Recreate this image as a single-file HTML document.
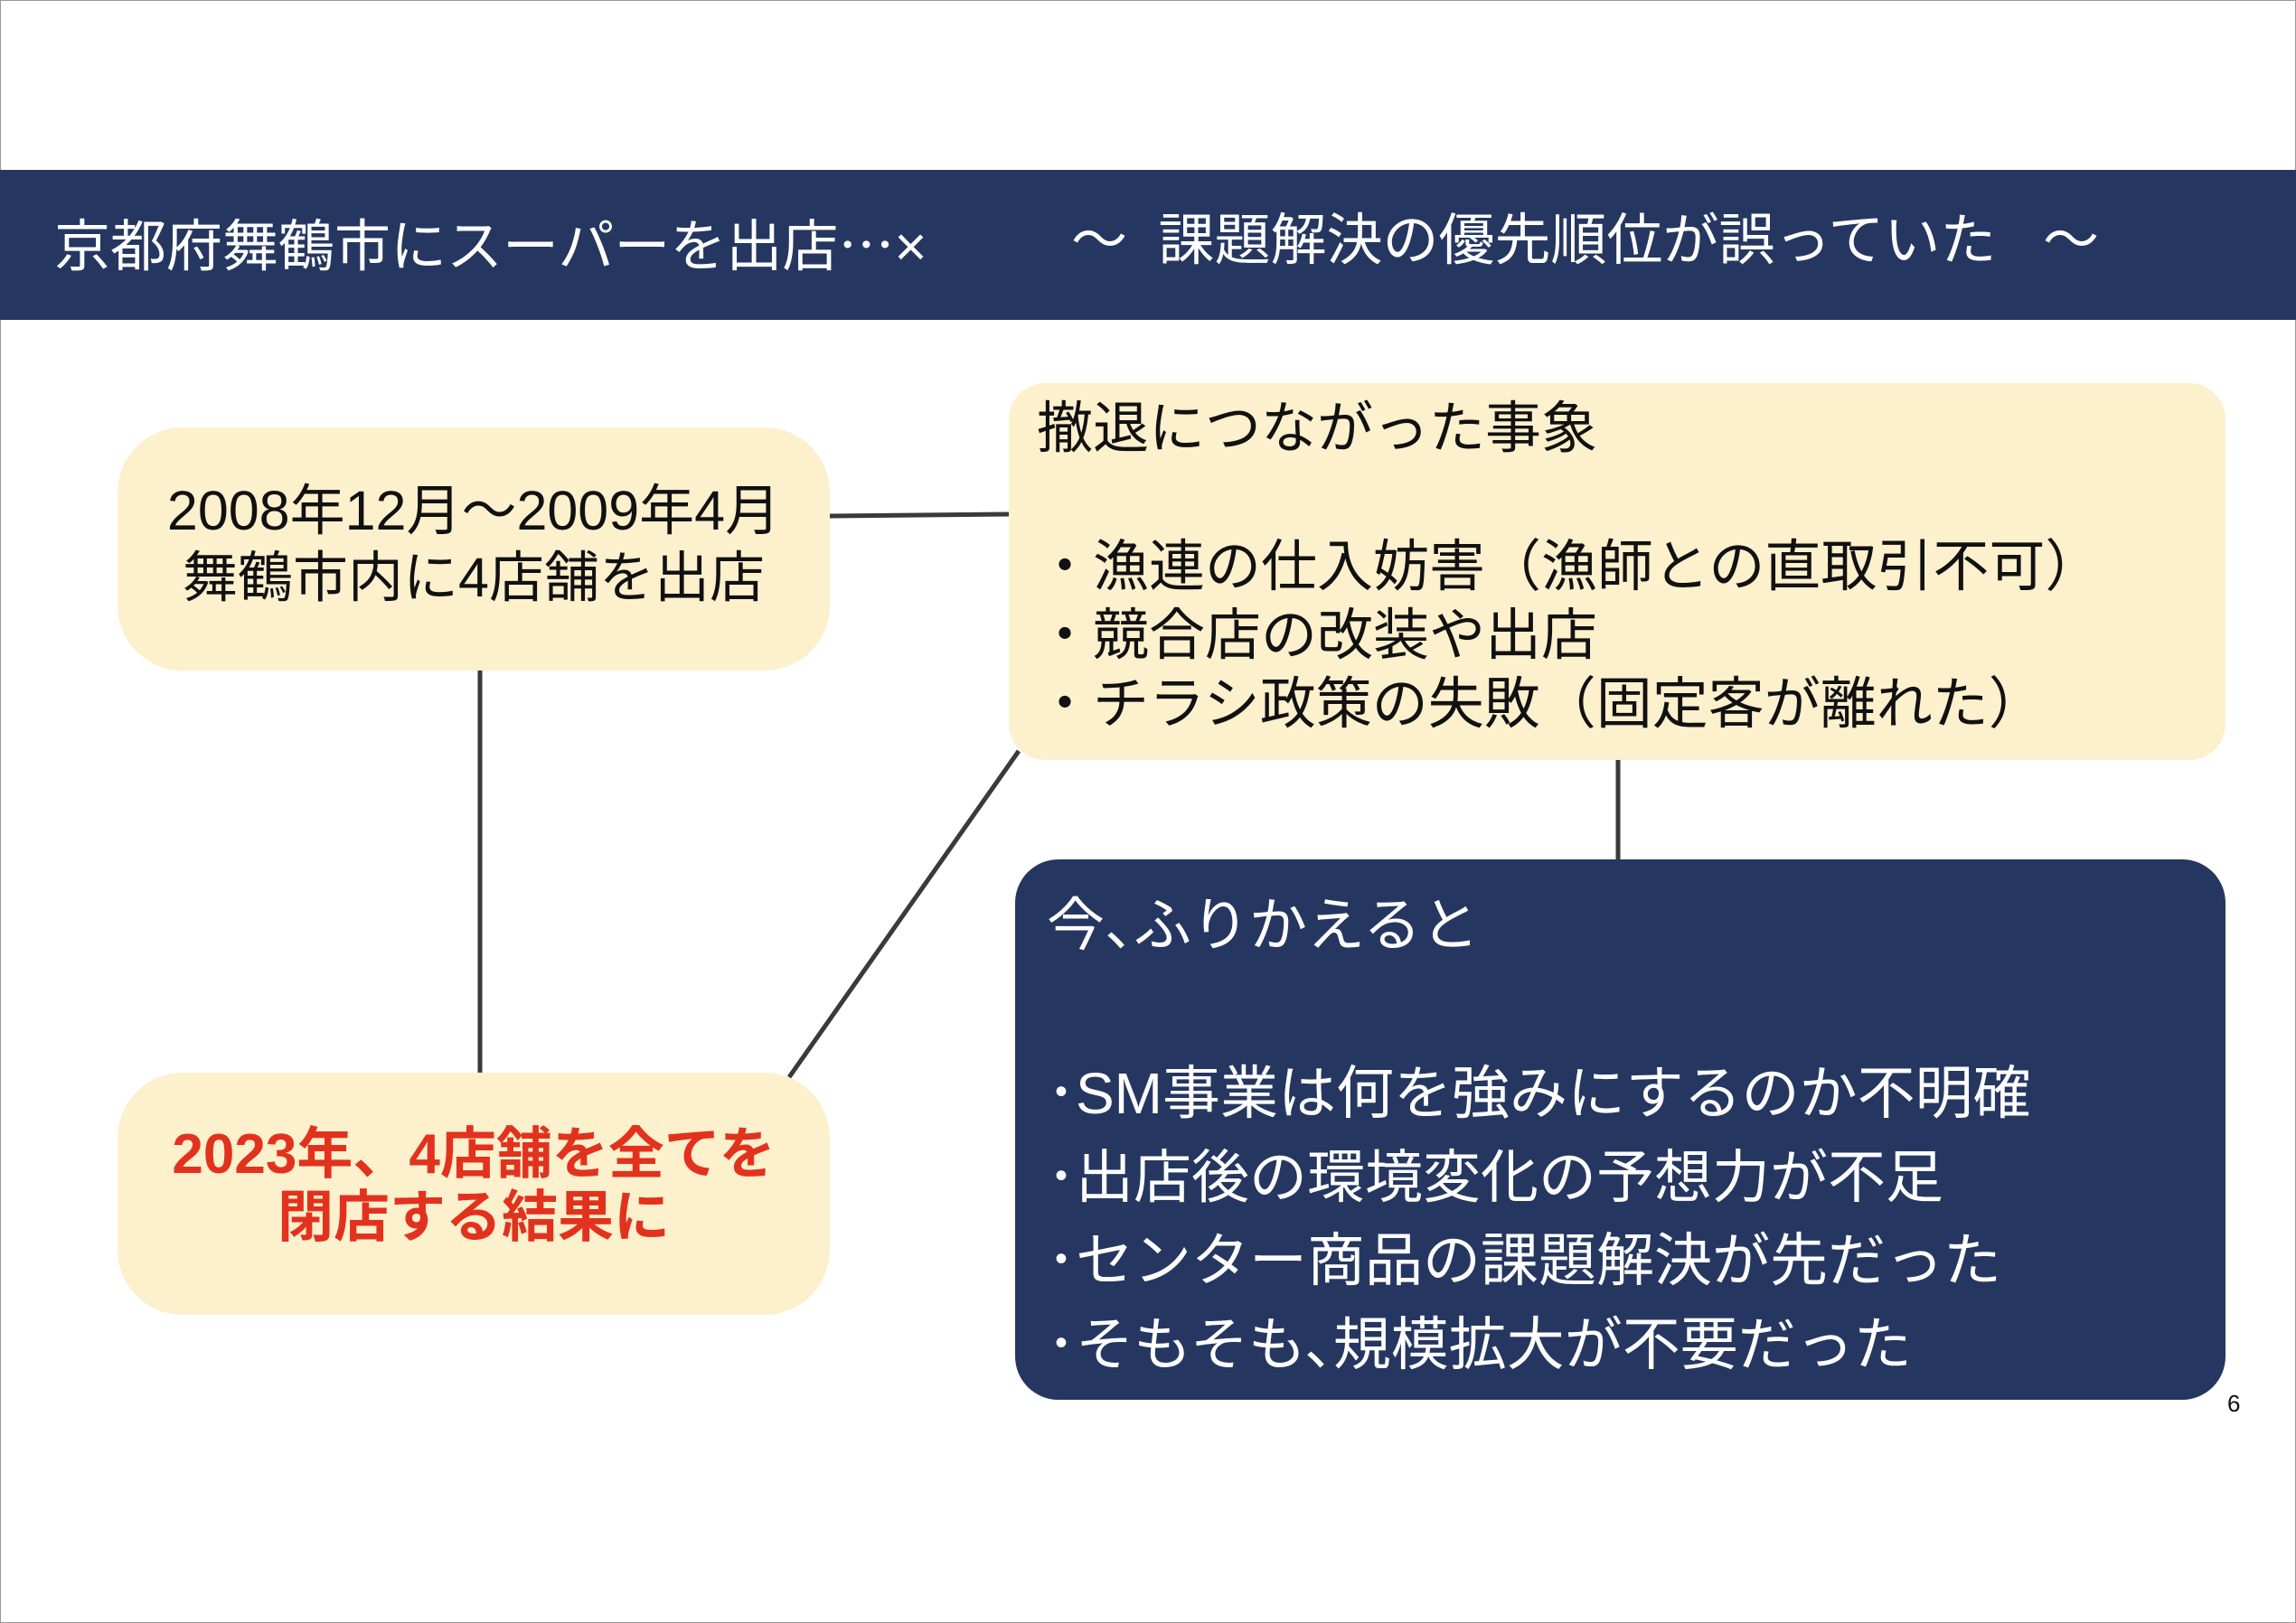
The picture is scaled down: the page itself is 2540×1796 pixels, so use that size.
<!DOCTYPE html>
<html><head><meta charset="utf-8"><style>
body{margin:0;width:2540px;height:1796px;position:relative;background:#fff;overflow:hidden;font-family:"Liberation Sans","Noto Sans CJK JP",sans-serif}
.a{position:absolute;white-space:nowrap}
.box{position:absolute;border-radius:72px;background:#fcf0cd}
.c{margin-right:-0.5em}
</style></head><body>
<div class="a" style="left:0;top:0;width:2538px;height:1794px;border:1px solid #999"></div>
<div class="a" style="left:0;top:188px;width:2540px;height:166px;background:#253761"></div>
<div class="a" style="left:60px;top:232px;font-size:62px;line-height:70px;color:#fff">京都府舞鶴市にスーパーを出店<span style="font-family:'Noto Sans CJK JP',sans-serif">…</span>×</div>
<div class="a" style="left:1185px;top:232px;font-size:62px;line-height:70px;color:#fff">～&nbsp;&nbsp;課題解決の優先順位が誤っていた&nbsp;&nbsp;&nbsp;～</div>
<svg class="a" style="left:0;top:0" width="2540" height="1796">
<g stroke="#3a3a3a" stroke-width="5">
<line x1="918" y1="571" x2="1116" y2="569"/>
<line x1="531" y1="742" x2="531" y2="1187"/>
<line x1="1127" y1="831" x2="873" y2="1192"/>
<line x1="1790" y1="841" x2="1790" y2="951"/>
</g></svg>
<div class="box" style="left:130px;top:473px;width:788px;height:269px"></div>
<div class="a" style="left:130px;width:788px;top:528px;text-align:center;font-size:61px;line-height:74px;color:#111">2008年12月～2009年4月<br>舞鶴市内に4店舗を出店</div>
<div class="box" style="left:130px;top:1187px;width:788px;height:268px"></div>
<div class="a" style="left:130px;width:788px;top:1243px;text-align:center;font-size:62px;line-height:70px;color:#e2321e;font-weight:bold">2023年、4店舗を全てを<br>閉店する結果に</div>
<div class="box" style="left:1116px;top:424px;width:1346px;height:417px;border-radius:40px"></div>
<div class="a" style="left:1147px;top:440px;font-size:62px;line-height:70px;color:#111">撤退につながった事象</div>
<div class="a" style="left:1147px;top:590px;font-size:62px;line-height:76px;color:#111">・漁連の仕入妨害（漁師との直取引不可）<br>・競合店の改装や出店<br>・チラシ政策の失敗（固定客が離れた）</div>
<div class="box" style="left:1123px;top:951px;width:1339px;height:598px;background:#253761;border-radius:48px"></div>
<div class="a" style="left:1158px;top:988px;font-size:64px;line-height:72px;color:#fff">今<span class="c">、</span>ふりかえると</div>
<div class="a" style="left:1158px;top:1164px;font-size:64px;line-height:92.5px;color:#fff">･SM事業は何を強みにするのか不明確<br>･出店後の環境変化の予想力が不足<br>･センター商品の課題解決が先だった<br>･そもそも<span class="c">、</span>規模拡大が不要だった</div>
<div class="a" style="left:2464px;top:1538px;font-size:26px;line-height:30px;color:#111">6</div>
</body></html>
